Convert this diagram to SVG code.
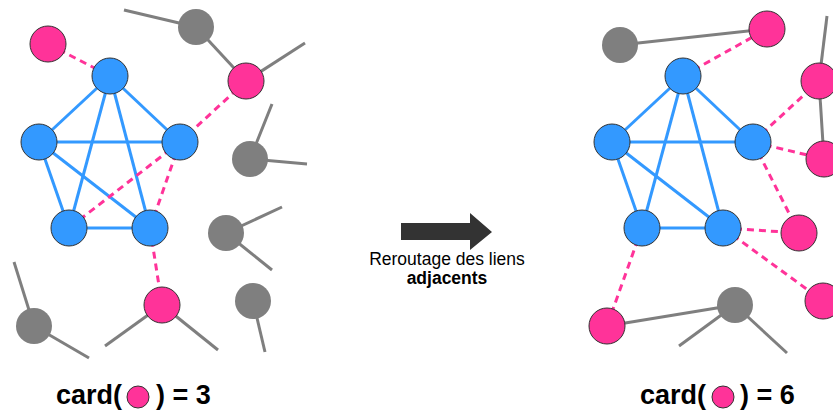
<svg xmlns="http://www.w3.org/2000/svg" width="833" height="412" viewBox="0 0 833 412">
<style>
.b{stroke:#3399ff;stroke-width:3;fill:none}
.g{stroke:#7f7f7f;stroke-width:3;fill:none}
.d{stroke:#ff3399;stroke-width:3;stroke-dasharray:7,5;fill:none}
.nb{fill:#3399ff;stroke:#333;stroke-width:1}
.np{fill:#ff3399;stroke:#333;stroke-width:1}
.ng{fill:#7f7f7f}
.t{font-family:"Liberation Sans",Arial,sans-serif;fill:#000}
</style>
<rect width="833" height="412" fill="#fff"/>
<g id="connectors">
<line class="b" x1="110" y1="76" x2="39" y2="142"/>
<line class="b" x1="110" y1="76" x2="180" y2="142"/>
<line class="b" x1="110" y1="76" x2="69" y2="228"/>
<line class="b" x1="110" y1="76" x2="150" y2="228"/>
<line class="b" x1="39" y1="142" x2="180" y2="142"/>
<line class="b" x1="39" y1="142" x2="69" y2="228"/>
<line class="b" x1="39" y1="142" x2="150" y2="228"/>
<line class="b" x1="69" y1="228" x2="150" y2="228"/>
<line class="d" x1="180" y1="142" x2="69" y2="228"/>
<line class="d" x1="180" y1="142" x2="150" y2="228"/>
<line class="d" x1="48" y1="44" x2="110" y2="76"/>
<line class="d" x1="246" y1="81" x2="180" y2="142"/>
<line class="d" x1="150" y1="228" x2="162" y2="305"/>
<line class="g" x1="124" y1="10" x2="196" y2="27"/>
<line class="g" x1="196" y1="27" x2="246" y2="81"/>
<line class="g" x1="246" y1="81" x2="305" y2="43"/>
<line class="g" x1="272" y1="104" x2="250" y2="159"/>
<line class="g" x1="250" y1="159" x2="307" y2="164"/>
<line class="g" x1="226" y1="233" x2="282" y2="207"/>
<line class="g" x1="226" y1="233" x2="272" y2="270"/>
<line class="g" x1="253" y1="301" x2="265" y2="352"/>
<line class="g" x1="162" y1="305" x2="105" y2="346"/>
<line class="g" x1="162" y1="305" x2="218" y2="350"/>
<line class="g" x1="14" y1="262" x2="34" y2="326"/>
<line class="g" x1="34" y1="326" x2="89" y2="358"/>
<line class="b" x1="683" y1="76" x2="612" y2="142"/>
<line class="b" x1="683" y1="76" x2="753" y2="142"/>
<line class="b" x1="683" y1="76" x2="642" y2="228"/>
<line class="b" x1="683" y1="76" x2="723" y2="228"/>
<line class="b" x1="612" y1="142" x2="753" y2="142"/>
<line class="b" x1="612" y1="142" x2="642" y2="228"/>
<line class="b" x1="612" y1="142" x2="723" y2="228"/>
<line class="b" x1="642" y1="228" x2="723" y2="228"/>
<line class="d" x1="683" y1="76" x2="767" y2="29"/>
<line class="d" x1="753" y1="142" x2="819" y2="81"/>
<line class="d" x1="753" y1="142" x2="824" y2="159"/>
<line class="d" x1="753" y1="142" x2="799" y2="233"/>
<line class="d" x1="723" y1="228" x2="799" y2="233"/>
<line class="d" x1="723" y1="228" x2="823" y2="301"/>
<line class="d" x1="642" y1="228" x2="607" y2="326"/>
<line class="g" x1="620" y1="45" x2="767" y2="29"/>
<line class="g" x1="827" y1="16" x2="819" y2="81"/>
<line class="g" x1="819" y1="81" x2="824" y2="159"/>
<line class="g" x1="735" y1="305" x2="607" y2="326"/>
<line class="g" x1="735" y1="305" x2="679" y2="346"/>
<line class="g" x1="735" y1="305" x2="787" y2="353"/>
</g>
<g id="n-l-pink-tl"><circle class="np" cx="48" cy="44" r="18"/></g>
<g id="n-l-blue-t"><circle class="nb" cx="110" cy="76" r="18"/></g>
<g id="n-l-blue-l"><circle class="nb" cx="39" cy="142" r="18"/></g>
<g id="n-l-blue-r"><circle class="nb" cx="180" cy="142" r="18"/></g>
<g id="n-l-blue-bl"><circle class="nb" cx="69" cy="228" r="18"/></g>
<g id="n-l-blue-br"><circle class="nb" cx="150" cy="228" r="18"/></g>
<g id="n-l-pink-r"><circle class="np" cx="246" cy="81" r="18"/></g>
<g id="n-l-pink-b"><circle class="np" cx="162" cy="305" r="18"/></g>
<g id="n-l-gray-1"><circle class="ng" cx="196" cy="27" r="18"/></g>
<g id="n-l-gray-2"><circle class="ng" cx="250" cy="159" r="18"/></g>
<g id="n-l-gray-3"><circle class="ng" cx="226" cy="233" r="18"/></g>
<g id="n-l-gray-4"><circle class="ng" cx="253" cy="301" r="18"/></g>
<g id="n-l-gray-5"><circle class="ng" cx="34" cy="326" r="18"/></g>
<g id="n-r-gray-tl"><circle class="ng" cx="620" cy="45" r="18"/></g>
<g id="n-r-pink-t"><circle class="np" cx="767" cy="29" r="18"/></g>
<g id="n-r-blue-t"><circle class="nb" cx="683" cy="76" r="18"/></g>
<g id="n-r-blue-l"><circle class="nb" cx="612" cy="142" r="18"/></g>
<g id="n-r-blue-r"><circle class="nb" cx="753" cy="142" r="18"/></g>
<g id="n-r-blue-bl"><circle class="nb" cx="642" cy="228" r="18"/></g>
<g id="n-r-blue-br"><circle class="nb" cx="723" cy="228" r="18"/></g>
<g id="n-r-pink-r1"><circle class="np" cx="819" cy="81" r="18"/></g>
<g id="n-r-pink-r2"><circle class="np" cx="824" cy="159" r="18"/></g>
<g id="n-r-pink-r3"><circle class="np" cx="799" cy="233" r="18"/></g>
<g id="n-r-pink-r4"><circle class="np" cx="823" cy="301" r="18"/></g>
<g id="n-r-pink-bl"><circle class="np" cx="607" cy="326" r="18"/></g>
<g id="n-r-gray-b"><circle class="ng" cx="735" cy="305" r="18"/></g>
<g id="arrow">
<polygon points="401,223 470,223 470,213 492,232 470,250 470,240 401,240" fill="#333"/>
<text class="t" x="447" y="265" font-size="17.5" text-anchor="middle">Reroutage des liens</text>
<text class="t" x="447" y="284" font-size="17.5" font-weight="bold" text-anchor="middle">adjacents</text>
</g>
<g id="label-left">
<text class="t" x="56" y="404" font-size="27" font-weight="bold">card(</text>
<circle class="np" cx="138" cy="397" r="11"/>
<text class="t" x="156" y="404" font-size="27" font-weight="bold">) = 3</text>
</g>
<g id="label-right">
<text class="t" x="640" y="404" font-size="27" font-weight="bold">card(</text>
<circle class="np" cx="723" cy="397" r="11"/>
<text class="t" x="740" y="404" font-size="27" font-weight="bold">) = 6</text>
</g>
</svg>
